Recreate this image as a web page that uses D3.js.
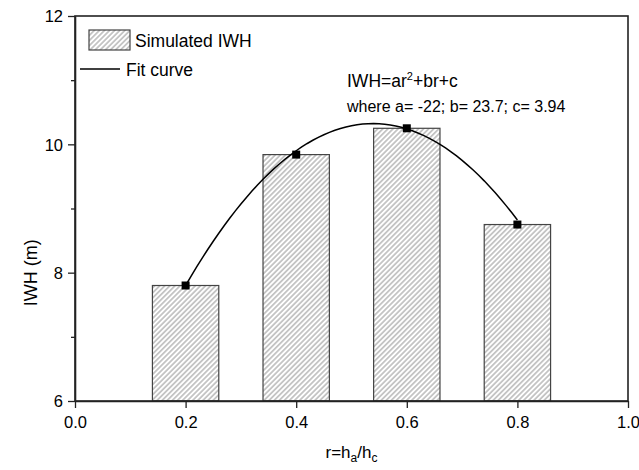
<!DOCTYPE html>
<html lang="en">
<head>
<meta charset="UTF-8">
<title>IWH</title>
<style>
  body { margin: 0; background: #fff; }
  text { font-family: "Liberation Sans", Arial, sans-serif; fill: #000; }
</style>
</head>
<body>
<svg width="639" height="470"></svg>
<script src="https://d3js.org/d3.v7.min.js"></script>
<script>
// data
var ratios = [0.2, 0.4, 0.6, 0.8];
var iwh = [7.8, 9.84, 10.25, 8.75];
var xTicks = [0.0, 0.2, 0.4, 0.6, 0.8, 1.0];
var yTicks = [6, 8, 10, 12];
var yMinor = [7, 9, 11];
// fit coefficients, as written on the chart
var fitA = -22, fitB = 23.7, fitC = 3.94;

var svg = d3.select("svg");
var marge = {left: 75, right: 11, top: 16, bottom: 69};
var width = 639, height = 470;

var x = d3.scaleLinear().domain([0, 1]).range([marge.left, width - marge.right]);
var y = d3.scaleLinear().domain([6, 12]).range([height - marge.bottom, marge.top]);

// hatch pattern
var defs = svg.append("defs");
var pat = defs.append("pattern")
    .attr("id", "hatch")
    .attr("patternUnits", "userSpaceOnUse")
    .attr("width", 3.6).attr("height", 3.6)
    .attr("patternTransform", "rotate(-45)");
pat.append("rect").attr("width", 3.6).attr("height", 3.6).attr("fill", "#fff");
pat.append("line")
    .attr("x1", 0).attr("y1", 1.8).attr("x2", 3.6).attr("y2", 1.8)
    .attr("stroke", "#7a7a7a").attr("stroke-width", 0.8);

// bars
var barW = x(0.12) - x(0);
svg.append("g").selectAll("rect")
    .data(ratios)
    .enter()
    .append("rect")
    .attr("x", function(d){ return x(d) - barW / 2; })
    .attr("y", function(d, i){ return y(iwh[i]); })
    .attr("width", barW)
    .attr("height", function(d, i){ return y(6) - y(iwh[i]); })
    .attr("fill", "url(#hatch)")
    .attr("stroke", "#444")
    .attr("stroke-width", 1.2);

// fit curve
var fitX = d3.range(0.2, 0.8001, 0.01);
var line = d3.line()
    .x(function(d){ return x(d); })
    .y(function(d){ return y(fitA * d * d + fitB * d + fitC); });
svg.append("path")
    .datum(fitX)
    .attr("d", line)
    .attr("fill", "none")
    .attr("stroke", "#000")
    .attr("stroke-width", 1.5);

// markers
svg.append("g").selectAll("rect")
    .data(ratios)
    .enter()
    .append("rect")
    .attr("x", function(d){ return x(d) - 4; })
    .attr("y", function(d, i){ return y(iwh[i]) - 4; })
    .attr("width", 8).attr("height", 8)
    .attr("fill", "#000");

// frame
svg.append("rect")
    .attr("x", x(0)).attr("y", y(12))
    .attr("width", x(1) - x(0)).attr("height", y(6) - y(12))
    .attr("fill", "none").attr("stroke", "#222").attr("stroke-width", 1.6);

// axes
var xAxis = d3.axisBottom(x).tickValues(xTicks).tickFormat(d3.format(".1f")).tickSize(7).tickSizeOuter(0);
var gx = svg.append("g").attr("transform", "translate(0," + y(6) + ")").call(xAxis);
gx.select(".domain").attr("stroke", "#222").attr("stroke-width", 1.6);
gx.selectAll(".tick line").attr("stroke", "#222").attr("stroke-width", 1.3);
gx.selectAll("text").attr("font-size", 16.5).attr("y", 27).attr("dy", 0);

var yAxis = d3.axisLeft(y).tickValues(yTicks).tickFormat(d3.format("d")).tickSize(7).tickSizeOuter(0);
var gy = svg.append("g").attr("transform", "translate(" + x(0) + ",0)").call(yAxis);
gy.select(".domain").attr("stroke", "#222").attr("stroke-width", 1.6);
gy.selectAll(".tick line").attr("stroke", "#222").attr("stroke-width", 1.3);
gy.selectAll("text").attr("font-size", 16.5).attr("x", -12).attr("dy", "0.36em");

var yAxisMinor = d3.axisLeft(y).tickValues(yMinor).tickSize(4).tickFormat("");
var gym = svg.append("g").attr("transform", "translate(" + x(0) + ",0)").call(yAxisMinor);
gym.select(".domain").remove();
gym.selectAll(".tick line").attr("stroke", "#222").attr("stroke-width", 1.3);

svg.selectAll(".tick text").attr("font-family", "Liberation Sans, Arial, sans-serif").attr("fill", "#000");

// axis titles
svg.append("text")
    .attr("transform", "translate(37," + y(8) + ") rotate(-90)")
    .attr("text-anchor", "middle")
    .attr("font-size", 18)
    .text("IWH (m)");

var xt = svg.append("text")
    .attr("x", x(0.5)).attr("y", 458)
    .attr("text-anchor", "middle")
    .attr("font-size", 17);
xt.append("tspan").text("r=h");
xt.append("tspan").attr("font-size", 12).attr("dy", 4).text("a");
xt.append("tspan").attr("dy", -4).text("/h");
xt.append("tspan").attr("font-size", 12).attr("dy", 4).text("c");

// legend
svg.append("rect")
    .attr("x", 89).attr("y", 30).attr("width", 41).attr("height", 20)
    .attr("fill", "url(#hatch)").attr("stroke", "#444").attr("stroke-width", 1.2);
svg.append("text").attr("x", 135).attr("y", 47).attr("font-size", 17.5).text("Simulated IWH");
svg.append("line")
    .attr("x1", 80).attr("y1", 69).attr("x2", 120).attr("y2", 69)
    .attr("stroke", "#000").attr("stroke-width", 1.6);
svg.append("text").attr("x", 126).attr("y", 76).attr("font-size", 17.5).text("Fit curve");

// equation
var eq = svg.append("text").attr("x", 347).attr("y", 87).attr("font-size", 17.5);
eq.append("tspan").text("IWH=ar");
eq.append("tspan").attr("font-size", 11).attr("dy", -7).text("2");
eq.append("tspan").attr("dy", 7).text("+br+c");
svg.append("text").attr("x", 347).attr("y", 112).attr("font-size", 16)
    .text("where a= " + fitA + "; b= " + fitB + "; c= " + fitC);
</script>
</body>
</html>
